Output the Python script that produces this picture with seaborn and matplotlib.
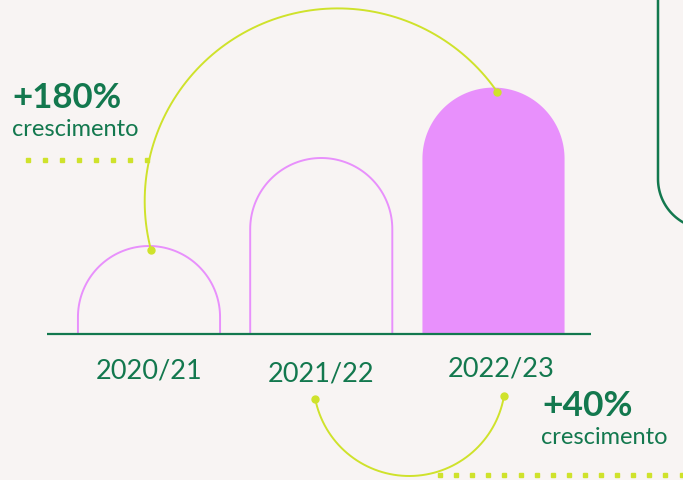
import numpy as np
import matplotlib
matplotlib.use('Agg')
import matplotlib.pyplot as plt
import seaborn as sns
from matplotlib.path import Path
from matplotlib.patches import PathPatch

# data
seasons = ['2020/21', '2021/22', '2022/23']
values = [100, 200, 280]
growth_labels = ['+180%', '+40%']
growth_sub = ['crescimento', 'crescimento']

BG = '#F8F4F3'
GREEN = '#13784E'
PINK = '#E890FC'
LIME = '#CFE22B'

W, H = 683, 481
# pixel layout of the data axes
X0, DX = 149, 172.25        # pixel x of first category, spacing
BASE, PPU = 335, 0.88       # pixel y of baseline, pixels per unit
BAR_W = 0.825

sns.set_theme(style='white')
plt.rcParams['font.family'] = ['Lato', 'DejaVu Sans']

fig = plt.figure(figsize=(W / 100, H / 100), dpi=100)
fig.patch.set_facecolor(BG)
ax = fig.add_axes([0, 0, 1, 1])
ax.set_facecolor(BG)

sns.barplot(x=seasons, y=values, width=BAR_W, ax=ax)
ax.set_xlim(-X0 / DX, (W - X0) / DX)
ax.set_ylim((BASE - H) / PPU, BASE / PPU)
ax.set_axis_off()

def px_x(i):
    return X0 + DX * i

def px_y(v):
    return BASE - PPU * v

# swap the plain rectangles for arch-topped bars
rects = list(ax.patches)
for k, r in enumerate(rects):
    x0, w, h = r.get_x(), r.get_width(), r.get_height()
    r.remove()
    rx = w / 2
    ry = rx * DX / PPU
    t = np.linspace(np.pi, 0, 80)
    xs = np.concatenate([[x0], x0 + rx + rx * np.cos(t), [x0 + w]])
    ys = np.concatenate([[0], h - ry + ry * np.sin(t), [0]])
    verts = np.column_stack([xs, ys])
    if k == len(rects) - 1:
        p = PathPatch(Path(verts), facecolor=PINK, edgecolor='none', zorder=2)
    else:
        p = PathPatch(Path(verts), facecolor='none', edgecolor=PINK, lw=1.4, zorder=2)
    ax.add_patch(p)

# overlay in pixel coordinates for decoration
deco = fig.add_axes([0, 0, 1, 1])
deco.set_xlim(0, W)
deco.set_ylim(H, 0)
deco.set_axis_off()
deco.patch.set_alpha(0)

# baseline
deco.plot([47, 591], [BASE, BASE], color=GREEN, lw=1.6, solid_capstyle='butt', zorder=3)

def arc(p0, p1, c, going):
    a0 = np.arctan2(-(p0[1] - c[1]), p0[0] - c[0])
    a1 = np.arctan2(-(p1[1] - c[1]), p1[0] - c[0])
    r0 = np.hypot(p0[0] - c[0], p0[1] - c[1])
    r1 = np.hypot(p1[0] - c[0], p1[1] - c[1])
    if going == 'over':
        if a1 > a0:
            a1 -= 2 * np.pi
    else:
        if a1 < a0:
            a1 += 2 * np.pi
    a = np.linspace(a0, a1, 200)
    r = np.linspace(r0, r1, 200)
    deco.plot(c[0] + r * np.cos(a), c[1] - r * np.sin(a), color=LIME, lw=1.4, zorder=4)
    deco.plot([p0[0], p1[0]], [p0[1], p1[1]], 'o', color=LIME, ms=5, zorder=5)

# +180% arc: first bar top to last bar top
arc((px_x(0) + 2, px_y(values[0]) + 4), (px_x(2) + 3.5, px_y(values[2]) + 4), (337, 203), 'over')
# +40% arc: below second and third labels
arc((px_x(1) - 6, 400), (px_x(2) + 10.5, 397), (409, 381), 'under')

# dotted guides
xs_t = np.arange(28, 150, 17)
deco.plot(xs_t, np.full(len(xs_t), 161), 's', color=LIME, ms=2.9, zorder=3)
xs_b = np.arange(440, 690, 16.1)
deco.plot(xs_b, np.full(len(xs_b), 476), 's', color=LIME, ms=2.9, zorder=3)

# green box corner at right
t = np.linspace(0, np.pi / 2, 60)
bx = np.concatenate([[658, 658], 708 - 50 * np.cos(t)])
by = np.concatenate([[-5, 180], 180 + 50 * np.sin(t)])
deco.plot(bx, by, color=GREEN, lw=1.8, zorder=3)

# season labels
label_dx = [0, -0.5, 8]
label_y = [379, 382, 377]
for i, s in enumerate(seasons):
    deco.text(px_x(i) + label_dx[i], label_y[i], s, ha='center', va='baseline',
              fontsize=19.5, color=GREEN)

# growth annotations
deco.text(12, 108, growth_labels[0], fontsize=25, fontweight='bold', color=GREEN, va='baseline')
deco.text(12, 136, growth_sub[0], fontsize=17, color=GREEN, va='baseline')
deco.text(542, 416, growth_labels[1], fontsize=25.5, fontweight='bold', color=GREEN, va='baseline')
deco.text(541, 444, growth_sub[1], fontsize=17, color=GREEN, va='baseline')

fig.savefig('out.png', dpi=100, facecolor=BG)
